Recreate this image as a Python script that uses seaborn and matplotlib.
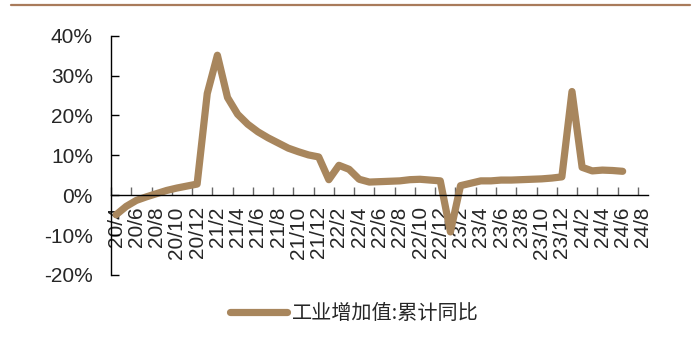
import numpy as np
import pandas as pd
import matplotlib
matplotlib.use("Agg")
import matplotlib.pyplot as plt
from matplotlib.lines import Line2D
import seaborn as sns

# Monthly axis categories (20/4 .. 24/8) and the series values (20/4 .. 24/6)
axis_months = [
    "20/4", "20/5", "20/6", "20/7", "20/8", "20/9", "20/10", "20/11", "20/12",
    "21/1", "21/2", "21/3", "21/4", "21/5", "21/6", "21/7", "21/8", "21/9",
    "21/10", "21/11", "21/12",
    "22/1", "22/2", "22/3", "22/4", "22/5", "22/6", "22/7", "22/8", "22/9",
    "22/10", "22/11", "22/12",
    "23/1", "23/2", "23/3", "23/4", "23/5", "23/6", "23/7", "23/8", "23/9",
    "23/10", "23/11", "23/12",
    "24/1", "24/2", "24/3", "24/4", "24/5", "24/6", "24/7", "24/8",
]
data_months = axis_months[:51]
values = [
    -4.9, -2.8, -1.3, -0.4, 0.4, 1.2, 1.8, 2.3, 2.8,
    25.5, 35.1, 24.5, 20.3, 17.8, 15.9, 14.4, 13.1, 11.8, 10.9, 10.1, 9.6,
    3.9, 7.5, 6.5, 4.0, 3.3, 3.4, 3.5, 3.6, 3.9, 4.0, 3.8, 3.6,
    -9.2, 2.4, 3.0, 3.6, 3.6, 3.8, 3.8, 3.9, 4.0, 4.1, 4.3, 4.6,
    26.0, 7.0, 6.1, 6.3, 6.2, 6.0,
]
tick_labels = axis_months[::2]
y_ticks = [-20, -10, 0, 10, 20, 30, 40]
series_name = "工业增加值:累计同比"

line_color = "#A8865D"

sns.set_theme(style="white")
plt.rcParams["font.family"] = ["Liberation Sans", "DejaVu Sans"]

df = pd.DataFrame({
    "pos": [axis_months.index(m) + 0.5 for m in data_months],
    "value": values,
})

fig = plt.figure(figsize=(6.99, 3.38), dpi=100)
ax = fig.add_axes([0.1588, 0.1864, 0.7682, 0.708])

sns.lineplot(data=df, x="pos", y="value", ax=ax, color=line_color,
             linewidth=5.2, legend=False)
for ln in ax.get_lines():
    ln.set_solid_joinstyle("round")
    ln.set_solid_capstyle("round")

ax.set_xlim(0, len(axis_months))
ax.set_ylim(-20, 40)
ax.set_xlabel("")
ax.set_ylabel("")

# spines: left axis plus a horizontal axis through zero
for side in ("top", "right"):
    ax.spines[side].set_visible(False)
ax.spines["left"].set_color("black")
ax.spines["left"].set_linewidth(1.0)
ax.spines["bottom"].set_position(("data", 0))
ax.spines["bottom"].set_color("black")
ax.spines["bottom"].set_linewidth(1.0)

ax.set_yticks(y_ticks)
ax.set_yticklabels([f"{v}%" for v in y_ticks])
ax.tick_params(axis="y", direction="in", length=6, width=1, color="black",
               labelsize=15, pad=13, left=True)

# tick marks on category boundaries, labels centred on the months
ax.set_xticks(np.arange(0, len(axis_months), 2))
ax.set_xticklabels([])
ax.set_xticks(np.arange(0, len(axis_months), 2) + 0.5, minor=True)
ax.set_xticklabels(tick_labels, minor=True, rotation=90)
ax.tick_params(axis="x", which="major", direction="in", length=6, width=1,
               color="#666666", bottom=True)
ax.tick_params(axis="x", which="minor", length=0, labelsize=15, pad=8)

ax.grid(False)

# legend at the bottom
handle = Line2D([0], [0], color=line_color, linewidth=5.2, solid_capstyle="round")
fig.legend([handle], [series_name], loc="center", bbox_to_anchor=(0.507, 0.072),
           frameon=False, handlelength=2.8, handletextpad=0.25,
           prop={"family": ["Noto Sans CJK SC", "DejaVu Sans"], "size": 14.5})

# rule across the top of the figure
fig.add_artist(Line2D([11 / 699, 690 / 699], [1 - 5 / 338, 1 - 5 / 338],
                      transform=fig.transFigure, color="#A97B5B", linewidth=1.6))

fig.savefig("out.png", dpi=100)
